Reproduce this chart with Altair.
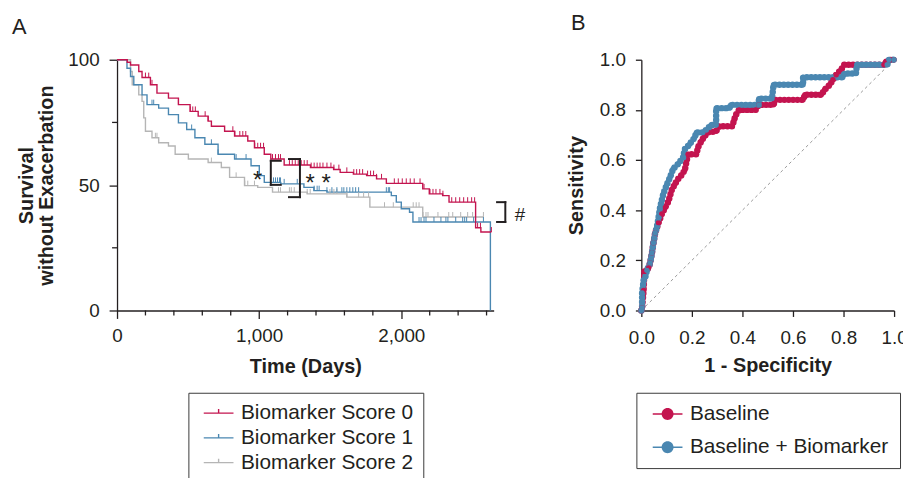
import altair as alt
import numpy as np
import pandas as pd

FONT = "Liberation Sans"
INK = "#231f20"
RED = "#c3144f"
BLUE = "#4a87b1"
GRAY = "#b5b5b5"

# ---------------- Panel A: Kaplan-Meier ----------------
km_groups = ["Biomarker Score 0", "Biomarker Score 1", "Biomarker Score 2"]

red_t = [0, 72, 95, 153, 176, 235, 281, 362, 432, 514, 571, 641, 664, 757, 827, 920, 967,
         1036, 1082, 1176, 1361, 1524, 1570, 1663, 1756, 1826, 1895, 2151, 2197, 2291, 2336,
         2523, 2560, 2634]
red_s = [100, 99, 97.9, 95.3, 92.9, 90, 86.7, 84.7, 82.1, 79.4, 77.5, 75.5, 73.5, 71.5, 69.6,
         67.6, 64.9, 62.3, 60.4, 58.0, 57, 56.2, 55.1, 54.4, 53.8, 52.5, 50.7, 48.5, 46.5, 45.8,
         43.2, 33.0, 31.3, 31.3]

blue_t = [0, 70, 95, 118, 176, 211, 293, 362, 432, 490, 548, 618, 711, 827, 943, 1001, 1036,
          1152, 1315, 1385, 1477, 1930, 1965, 2000, 2058, 2082, 2627, 2627]
blue_s = [100, 96.6, 93.3, 90, 86, 82.1, 80.7, 78.1, 74.8, 72.2, 68.9, 66.3, 62.3, 60.4, 57.7,
          53.8, 51.1, 50.5, 49.1, 47.8, 47.2, 45.8, 43.2, 40.6, 39.2, 35.3, 35.3, 0]

gray_t = [0, 95, 107, 153, 176, 188, 200, 246, 293, 362, 409, 502, 641, 734, 792, 897, 990,
          1094, 1338, 1617, 1779, 2151, 2578]
gray_s = [100, 95.3, 90, 86, 83.4, 76.8, 71.5, 68.9, 66.9, 65.6, 62.3, 60.4, 59, 57, 53.1,
          49.8, 49.1, 47.2, 46.5, 45.2, 41.2, 37.3, 37.3]

red_cens = [200, 223, 246, 432, 516, 533, 551, 620, 641, 815, 829, 864, 885, 906, 969, 990,
            1010, 1031, 1094, 1115, 1136, 1150, 1213, 1233, 1254, 1275, 1296, 1317, 1338, 1366,
            1387, 1408, 1428, 1449, 1477, 1505, 1526, 1561, 1617, 1666, 1686, 1707, 1728, 1763,
            1784, 1805, 1826, 1861, 1951, 1979, 2007, 2035, 2063, 2091, 2132, 2160, 2202, 2223,
            2244, 2272, 2293, 2355, 2383, 2411, 2439, 2467, 2495, 2516, 2537, 2557, 2634]
blue_cens = [246, 258, 525, 664, 711, 838, 908, 1101, 1115, 1129, 1143, 1150, 1176, 1268, 1387,
             1408, 1422, 1477, 1512, 1547, 1582, 1596, 1617, 1638, 1659, 1679, 1700, 1895, 1909,
             1918, 2125, 2139, 2160, 2174, 2230, 2279, 2314, 2328, 2383, 2432, 2446, 2460, 2509,
             2578]
gray_cens = [270, 281, 664, 838, 899, 920, 967, 1136, 1150, 1213, 1226, 1247, 1289, 1338, 1359,
             1498, 1526, 1547, 1617, 1700, 1735, 1770, 1882, 1944, 2084, 2105, 2125, 2153, 2174,
             2188, 2258, 2334, 2362, 2418, 2467, 2502, 2578]

x_major = [0, 1000, 2000]
x_minor = [200, 400, 600, 800, 1200, 1400, 1600, 1800, 2200, 2400, 2600]
y_major = [0, 50, 100]
y_minor = [25, 75]

# significance brackets (data units: days, % survival)
br_t1 = [1082, 1082, 1082, 1287, 1210, 1210, 2732, 2674, 2674]
br_t2 = [1082, 1152, 1152, 1287, 1287, 1287, 2732, 2732, 2732]
br_s1 = [50.1, 59.7, 50.1, 45.2, 60.4, 45.2, 35.3, 43.2, 35.3]
br_s2 = [59.7, 59.7, 50.1, 60.4, 60.4, 45.2, 43.2, 43.2, 35.3]
mark_text_vals = ["*", "* *", "#"]
mark_text_t = [990, 1415, 2836]
mark_text_s = [54.4, 53.2, 41.0]
mark_text_size = [24, 24, 19]

series = [(km_groups[2], gray_t, gray_s, gray_cens),
          (km_groups[1], blue_t, blue_s, blue_cens),
          (km_groups[0], red_t, red_s, red_cens)]
km_parts, cens_parts = [], []
for name, t, s, c in series:
    km_parts.append(pd.DataFrame({"time": t, "surv": s, "group": name, "ord": range(len(t))}))
    idx = np.searchsorted(np.array(t), np.array(c), side="right") - 1
    cens_parts.append(pd.DataFrame({"time": c, "surv": np.array(s)[idx], "group": name}))
km = pd.concat(km_parts, ignore_index=True)
cens = pd.concat(cens_parts, ignore_index=True)
brackets = pd.DataFrame({"time": br_t1, "time2": br_t2, "surv": br_s1, "surv2": br_s2})
notes = pd.DataFrame({"time": mark_text_t, "surv": mark_text_s, "txt": mark_text_vals,
                      "fs": mark_text_size})
xminor_df = pd.DataFrame({"time": x_minor})
yminor_df = pd.DataFrame({"surv": y_minor})

km_color = alt.Scale(domain=km_groups, range=[RED, BLUE, GRAY])

xa = alt.X("time:Q", scale=alt.Scale(domain=[0, 2650], nice=False),
           axis=alt.Axis(values=x_major, labelExpr="format(datum.value, ',')",
                         title="Time (Days)", tickSize=8,
                         labelOverlap=False, labelFlush=False, labelPadding=8, titlePadding=12))
ya = alt.Y("surv:Q", scale=alt.Scale(domain=[0, 100], nice=False),
           axis=alt.Axis(values=y_major, labelExpr="format(datum.value, 'd')",
                         title=["Survival", "without Exacerbation"], tickSize=8,
                         labelOverlap=False, labelFlush=False, labelPadding=10, titlePadding=11,
                         titleLineHeight=21))

km_lines = alt.Chart(km).mark_line(interpolate="step-after", strokeWidth=1.4).encode(
    x=xa, y=ya,
    color=alt.Color("group:N", scale=km_color,
                    legend=alt.Legend(title=None, orient="none", legendX=72, legendY=336,
                                      symbolType="M-1,0H5M2,0V-0.8", symbolSize=100,
                                      symbolStrokeWidth=1.4, labelFontSize=21, labelFont=FONT,
                                      labelColor=INK, labelOffset=22, labelLimit=400,
                                      rowPadding=3, padding=10,
                                      strokeColor="#3a3a3a", fillColor="white")),
    order=alt.Order("ord:Q"))
km_ticks = alt.Chart(cens).mark_point(shape="M0,0L0,-1", size=100, filled=False, strokeWidth=1,
                                      opacity=1).encode(
    x="time:Q", y="surv:Q", color=alt.Color("group:N", scale=km_color, legend=None))
km_br = alt.Chart(brackets).mark_rule(color=INK, strokeWidth=2, strokeCap="square").encode(
    x="time:Q", x2="time2", y="surv:Q", y2="surv2")
km_txt = alt.Chart(notes).mark_text(color=INK, font=FONT, baseline="middle", dy=7).encode(
    x="time:Q", y="surv:Q", text="txt:N", size=alt.Size("fs:Q", scale=None, legend=None))
km_xminor = alt.Chart(xminor_df).mark_rule(color=INK, strokeWidth=1.3).encode(
    x="time:Q", y=alt.value(253), y2=alt.value(258))
km_yminor = alt.Chart(yminor_df).mark_rule(color=INK, strokeWidth=1.3).encode(
    y="surv:Q", x=alt.value(0), x2=alt.value(-5))

panel_a = alt.layer(km_lines, km_ticks, km_br, km_txt, km_xminor, km_yminor).properties(
    width=380, height=253,
    title=alt.TitleParams("A", anchor="start", frame="group", dx=-106, fontSize=22,
                          fontWeight="normal", font=FONT, color=INK, offset=12))

# ---------------- Panel B: ROC ----------------
roc_models = ["Baseline", "Baseline + Biomarker"]
base_fpr = [0, 0.003, 0.009, 0.012, 0.029, 0.035, 0.042, 0.048, 0.055, 0.068, 0.081, 0.094,
            0.107, 0.12, 0.133, 0.146, 0.159, 0.172, 0.178, 0.185, 0.218, 0.224, 0.237, 0.25,
            0.263, 0.296, 0.309, 0.36, 0.367, 0.374, 0.387, 0.452, 0.465, 0.523, 0.53, 0.64,
            0.647, 0.712, 0.725, 0.745, 0.758, 0.771, 0.79, 0.803, 0.96, 0.966, 0.986, 1.0]
base_tpr = [0, 0.01, 0.08, 0.155, 0.17, 0.19, 0.23, 0.27, 0.31, 0.35, 0.385, 0.41, 0.435,
            0.48, 0.505, 0.525, 0.54, 0.56, 0.59, 0.623, 0.623, 0.65, 0.675, 0.695, 0.71,
            0.715, 0.735, 0.735, 0.76, 0.78, 0.80, 0.80, 0.82, 0.82, 0.84, 0.84, 0.86, 0.86,
            0.88, 0.90, 0.92, 0.94, 0.96, 0.98, 0.98, 0.99, 1.0, 1.0]
bio_fpr = [0, 0.003, 0.003, 0.009, 0.016, 0.022, 0.035, 0.042, 0.048, 0.055, 0.061, 0.068,
           0.074, 0.081, 0.087, 0.1, 0.113, 0.126, 0.146, 0.165, 0.172, 0.191, 0.211, 0.218,
           0.243, 0.257, 0.276, 0.296, 0.296, 0.348, 0.354, 0.465, 0.465, 0.517, 0.52, 0.523,
           0.64, 0.64, 0.797, 0.803, 0.849, 0.853, 0.973, 0.98, 1.0]
bio_tpr = [0, 0.01, 0.07, 0.12, 0.135, 0.16, 0.19, 0.23, 0.27, 0.31, 0.33, 0.37, 0.41, 0.44,
           0.465, 0.50, 0.53, 0.565, 0.585, 0.61, 0.643, 0.663, 0.69, 0.71, 0.71, 0.72, 0.74,
           0.74, 0.807, 0.807, 0.82, 0.82, 0.845, 0.845, 0.873, 0.90, 0.90, 0.93, 0.93, 0.945,
           0.945, 0.98, 0.98, 1.0, 1.0]
diag_x = [0, 1]
diag_y = [0, 1]

roc = pd.concat([
    pd.DataFrame({"fpr": base_fpr, "tpr": base_tpr, "model": roc_models[0], "ord": range(len(base_fpr))}),
    pd.DataFrame({"fpr": bio_fpr, "tpr": bio_tpr, "model": roc_models[1], "ord": range(len(bio_fpr))}),
], ignore_index=True)
diag = pd.DataFrame({"fpr": diag_x, "tpr": diag_y})

ticks01 = [0, 0.2, 0.4, 0.6, 0.8, 1.0]
xb = alt.X("fpr:Q", scale=alt.Scale(domain=[0, 1], nice=False),
           axis=alt.Axis(values=ticks01, format=".1f", title="1 - Specificity", tickSize=6,
                         labelFlush=False, labelOverlap=False, labelPadding=12, titlePadding=9))
yb = alt.Y("tpr:Q", scale=alt.Scale(domain=[0, 1], nice=False),
           axis=alt.Axis(values=ticks01, format=".1f", title="Sensitivity", tickSize=6,
                         labelFlush=False, labelOverlap=False, labelPadding=10, titlePadding=13))

diag_line = alt.Chart(diag).mark_line(color="#9a9a9a", strokeWidth=1, strokeDash=[3, 3]).encode(x=xb, y=yb)
roc_lines = []
for m, col in zip(roc_models, [RED, BLUE]):
    roc_lines.append(alt.Chart(roc[roc.model == m]).mark_line(
        color=col, strokeWidth=6.5, strokeCap="round", strokeDash=[0, 4.4]).encode(
        x="fpr:Q", y="tpr:Q", order="ord:Q"))
roc_pts = alt.Chart(roc).mark_point(filled=True, size=30, opacity=1).encode(
    x="fpr:Q", y="tpr:Q",
    color=alt.Color("model:N", scale=alt.Scale(domain=roc_models, range=[RED, BLUE]),
                    legend=alt.Legend(title=None, orient="none", legendX=-5, legendY=336,
                                      symbolType="M-1,-0.15H5V0.15H-1ZM0.8,0A1.2,1.2,0,1,1,3.2,0A1.2,1.2,0,1,1,0.8,0Z",
                                      symbolSize=100, symbolOpacity=1, labelFontSize=21,
                                      labelFont=FONT, labelColor=INK, labelOffset=22,
                                      labelLimit=400, rowPadding=11.5, padding=11,
                                      strokeColor="#3a3a3a", fillColor="white")))

panel_b = alt.layer(diag_line, roc_lines[0], roc_lines[1], roc_pts).properties(
    width=255, height=253,
    title=alt.TitleParams("B", anchor="start", frame="group", dx=-71, fontSize=22,
                          fontWeight="normal", font=FONT, color=INK, offset=12))

chart = alt.hconcat(panel_a, panel_b, spacing=41).resolve_scale(
    color="independent").resolve_legend(color="independent").properties(
    autosize=alt.AutoSizeParams(type="none"),
    padding={"left": 110, "top": 49, "right": 793, "bottom": 413}
).configure_view(stroke=None).configure_axis(
    labelFont=FONT, titleFont=FONT, labelFontSize=19, titleFontSize=20, titleFontWeight="bold",
    labelColor=INK, titleColor=INK, domainColor=INK, tickColor=INK, domainWidth=1.3,
    tickWidth=1.3, grid=False, labelOverlap=False
).configure_text(font=FONT)

chart.save("out.html", embed_options={"renderer": "svg", "actions": False})
